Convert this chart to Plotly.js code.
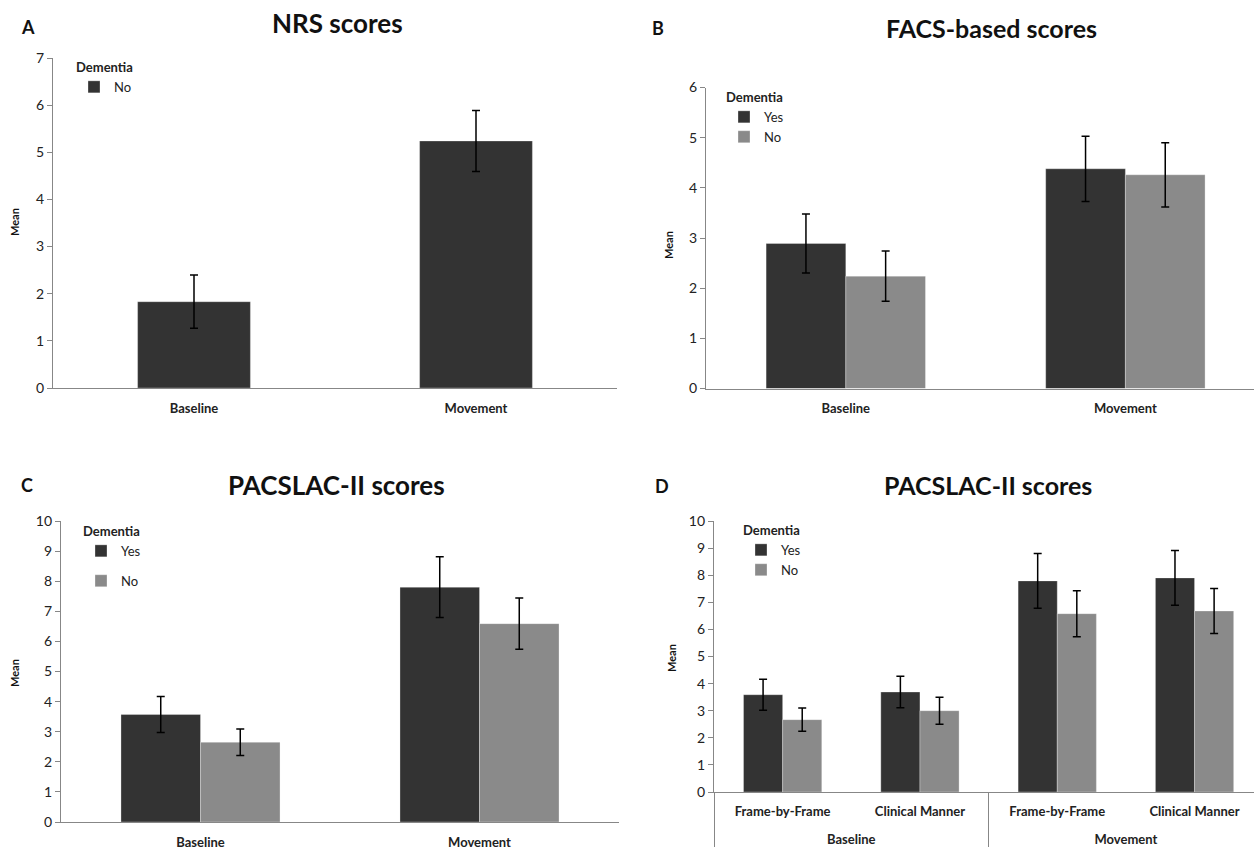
<!DOCTYPE html>
<html>
<head>
<meta charset="utf-8">
<script src="https://cdn.plot.ly/plotly-3.0.1.min.js"></script>
<style>html,body{margin:0;padding:0;background:#fff;}#chart{width:1254px;height:851px;}</style>
</head>
<body>
<div id="chart"></div>
<script>
// ---- Data ----
var phases = ["Baseline", "Movement"];

// A: NRS scores (No dementia only)
var nrsNo = [1.83, 5.24];
var nrsNoErr = [0.565, 0.645];

// B: FACS-based scores
var facsYes = [2.89, 4.38];
var facsYesErr = [0.59, 0.65];
var facsNo = [2.24, 4.26];
var facsNoErr = [0.50, 0.64];

// C: PACSLAC-II scores
var pacYes = [3.57, 7.80];
var pacYesErr = [0.60, 1.01];
var pacNo = [2.65, 6.59];
var pacNoErr = [0.44, 0.85];

// D: PACSLAC-II scores by rating method
var dOuter = ["Baseline", "Baseline", "Movement", "Movement"];
var dInner = ["Frame-by-Frame", "Clinical Manner", "Frame-by-Frame", "Clinical Manner"];
var dYes = [3.59, 3.69, 7.79, 7.90];
var dYesErr = [0.57, 0.58, 1.01, 1.01];
var dNo = [2.67, 3.00, 6.58, 6.68];
var dNoErr = [0.43, 0.50, 0.85, 0.83];

var seriesNames = ["Yes", "No"];
var panelTitles = ["NRS scores", "FACS-based scores", "PACSLAC-II scores", "PACSLAC-II scores"];
var panelLetters = ["A", "B", "C", "D"];

// ---- Styles ----
var DARK = "#333333", GREY = "#8a8a8a", AX = "#878787";
var FONT = "Lato, 'Open Sans', sans-serif";

// inner labels get an extra blank line so the outer (phase) labels sit lower, as in the reference
var dInnerLab = dInner.map(function (s) { return s + "<br>\u00a0"; });

function err(a) {
  return {type: "data", array: a, visible: true, color: "#000", thickness: 1.5, width: 4};
}
function bar(x, y, e, name, color, xa, ya, leg, extra) {
  var t = {type: "bar", x: x, y: y, error_y: err(e), name: name,
    marker: {color: color, line: {color: "rgba(255,255,255,0.5)", width: 0.6}},
    xaxis: xa, yaxis: ya, legend: leg, hoverinfo: "y"};
  for (var k in extra) t[k] = extra[k];
  return t;
}

var traces = [
  bar(phases, nrsNo, nrsNoErr, "No", DARK, "x", "y", "legend", {width: 0.4}),
  bar(phases, facsYes, facsYesErr, seriesNames[0], DARK, "x2", "y2", "legend2", {}),
  bar(phases, facsNo, facsNoErr, seriesNames[1], GREY, "x2", "y2", "legend2", {}),
  bar(phases, pacYes, pacYesErr, seriesNames[0], DARK, "x3", "y3", "legend3", {legendgroup: "c1"}),
  bar(phases, pacNo, pacNoErr, seriesNames[1], GREY, "x3", "y3", "legend3", {legendgroup: "c2"}),
  bar([dOuter, dInnerLab], dYes, dYesErr, seriesNames[0], DARK, "x4", "y4", "legend4", {}),
  bar([dOuter, dInnerLab], dNo, dNoErr, seriesNames[1], GREY, "x4", "y4", "legend4", {})
];

function xax(dom, range, anchor, extra) {
  var a = {domain: dom, range: range, anchor: anchor, showline: true, linecolor: AX, linewidth: 1.3,
    showgrid: false, zeroline: false, ticks: "", fixedrange: true, ticklabelstandoff: 8,
    tickfont: {family: FONT, size: 13, color: "#222", weight: "bold"}};
  for (var k in extra) a[k] = extra[k];
  return a;
}
function yax(dom, max, anchor) {
  return {domain: dom, range: [0, max], dtick: 1, anchor: anchor, showline: true, linecolor: AX, linewidth: 1.3,
    showgrid: false, zeroline: false, ticks: "outside", ticklen: 5, tickcolor: AX, tickwidth: 1,
    fixedrange: true, tickfont: {family: FONT, size: 14, color: "#222"}};
}
function legend(x, ytop, gap) {
  return {x: x, y: ytop, xanchor: "left", yanchor: "top", bgcolor: "rgba(0,0,0,0)",
    title: {text: "Dementia", font: {family: FONT, size: 13, color: "#222", weight: "bold"}},
    font: {family: FONT, size: 13, color: "#222"}, itemwidth: 30, traceorder: "grouped",
    tracegroupgap: gap || 0, itemclick: false, itemdoubleclick: false};
}
function ann(text, x, y, size, extra) {
  var a = {text: text, x: x, y: y, xref: "paper", yref: "paper", showarrow: false,
    xanchor: "center", yanchor: "middle",
    font: {family: FONT, size: size, color: "#111", weight: "bold"}};
  for (var k in extra) a[k] = extra[k];
  return a;
}
function px(v) { return v / 1254; }
function py(v) { return (851 - v) / 851; }

var layout = {
  width: 1254, height: 851, margin: {l: 0, r: 0, t: 0, b: 0},
  paper_bgcolor: "#fff", plot_bgcolor: "#fff",
  barmode: "group", bargap: 0.43, bargroupgap: 0,
  font: {family: FONT, color: "#222"},
  showlegend: true,
  xaxis: xax([px(53), px(617)], [-0.5, 1.5], "y"),
  yaxis: yax([py(388), py(58)], 7, "x"),
  xaxis2: xax([px(706), 1], [-0.5, 1.46], "y2"),
  yaxis2: yax([py(388.5), py(87.5)], 6, "x2"),
  xaxis3: xax([px(61), px(619)], [-0.5, 1.5], "y3"),
  yaxis3: yax([py(822), py(521)], 10, "x3"),
  xaxis4: xax([px(714), 1], [-0.5, 3.433], "y4", {type: "multicategory", showdividers: true,
    dividercolor: AX, dividerwidth: 1.3, ticklabelstandoff: 7}),
  yaxis4: yax([py(792), py(521)], 10, "x4"),
  legend: legend(px(74), py(55)),
  legend2: legend(px(724), py(85)),
  legend3: legend(px(81), py(519), 10),
  legend4: legend(px(741), py(518)),
  annotations: [
    ann(panelTitles[0], px(337), py(23), 26),
    ann(panelTitles[1], px(992), py(28), 25),
    ann(panelTitles[2], px(336), py(485), 26),
    ann(panelTitles[3], px(988), py(485), 25),
    ann(panelLetters[0], px(28), py(27), 18),
    ann(panelLetters[1], px(658), py(28), 18),
    ann(panelLetters[2], px(27), py(485), 18),
    ann(panelLetters[3], px(662), py(486), 18),
    ann("Mean", px(14), py(222), 11, {textangle: -90}),
    ann("Mean", px(668), py(245), 11, {textangle: -90}),
    ann("Mean", px(14), py(673), 11, {textangle: -90}),
    ann("Mean", px(671), py(658), 11, {textangle: -90})
  ]
};

Plotly.newPlot("chart", traces, layout, {displayModeBar: false, staticPlot: false});
</script>
</body>
</html>
